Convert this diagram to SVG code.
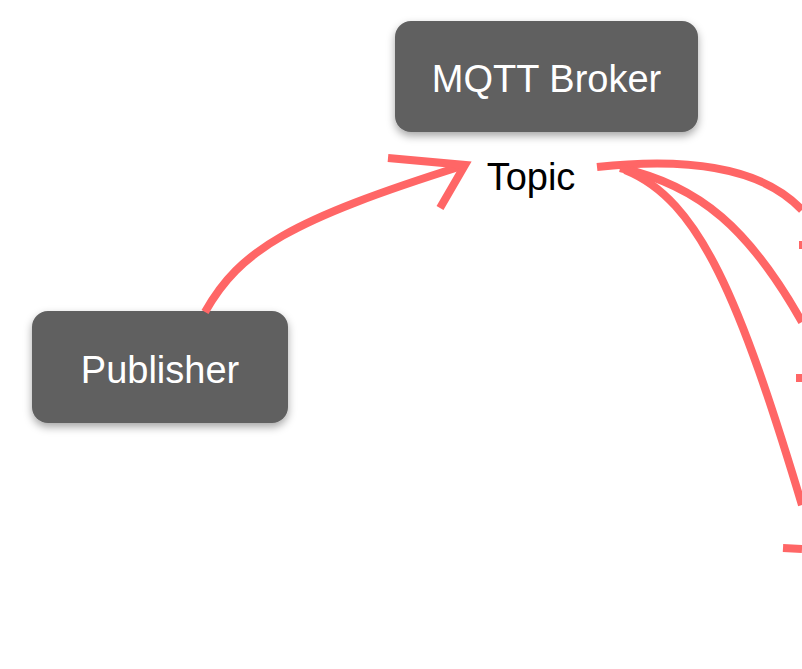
<svg xmlns="http://www.w3.org/2000/svg" width="802" height="669" viewBox="0 0 802 669">
<defs><filter id="sh" x="-20%" y="-20%" width="140%" height="150%"><feDropShadow dx="0" dy="4" stdDeviation="4" flood-color="#000" flood-opacity="0.35"/></filter></defs>
<style>
.n{fill:#606060;filter:url(#sh)}
.t{font-family:"Liberation Sans",Arial,sans-serif;font-size:38px;fill:#fff;text-anchor:middle}
.c{fill:none;stroke:#ff6666;stroke-width:8;stroke-linecap:butt}
</style>
<rect width="802" height="669" fill="#fff"/>
<g id="broker"><rect class="n" x="395" y="21" width="303" height="111" rx="16"/><text class="t" x="546.500" y="92">MQTT Broker</text></g>
<g id="publisher"><rect class="n" x="32" y="311" width="256" height="112" rx="16"/><text class="t" x="160" y="383">Publisher</text></g>
<g id="topic"><text x="531" y="190" font-family="Liberation Sans,Arial,sans-serif" font-size="38" fill="#000" text-anchor="middle">Topic</text></g>
<g id="connectors">
<path class="c" d="M205,312 C240,250 290,220 465,165"/>
<path class="c" d="M388,158 L465,165 L440,208"/>
<path class="c" d="M597,167 C680,158 760,165 802,210"/>
<path class="c" d="M620,168 C700,185 750,230 802,322"/>
<path class="c" d="M625,170 C700,200 740,300 802,505"/>
<path class="c" d="M799,245 L802,245"/>
<path class="c" d="M796,378 L802,378"/>
<path class="c" d="M783,548 L802,549"/>
</g>
</svg>
